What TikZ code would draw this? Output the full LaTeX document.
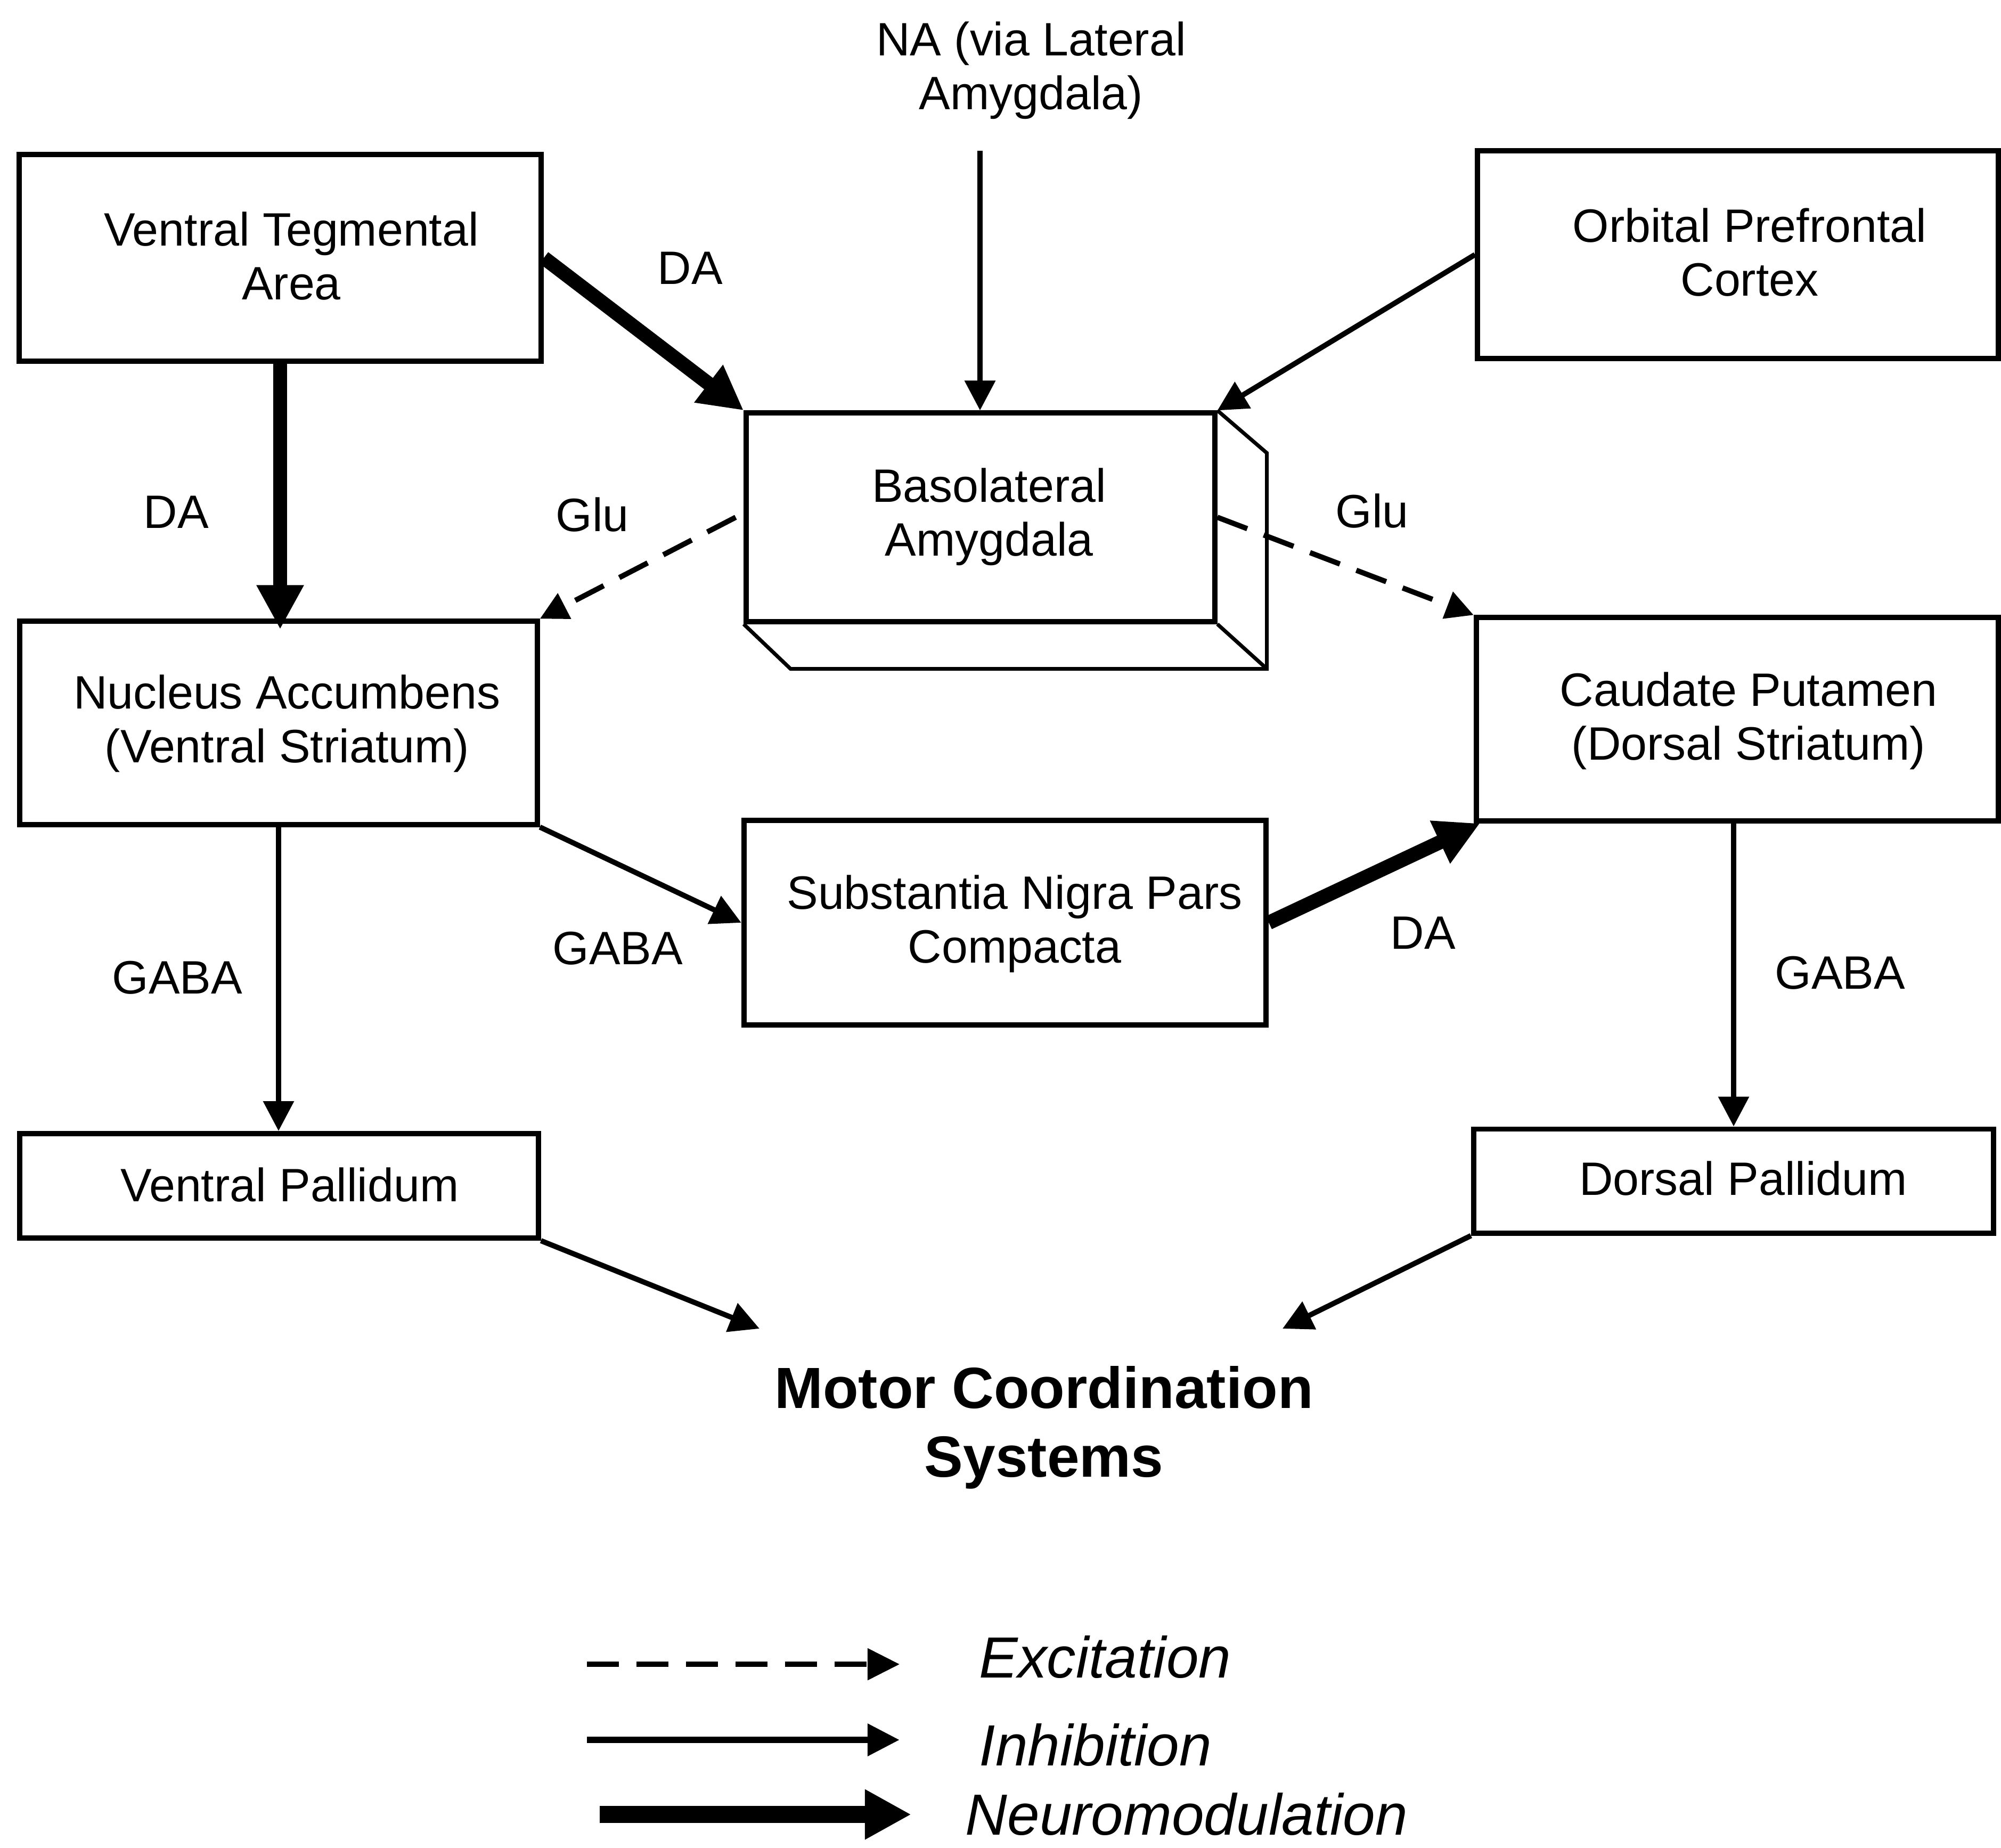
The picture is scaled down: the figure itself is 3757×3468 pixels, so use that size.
\documentclass[tikz,border=0pt]{standalone}
\usepackage{fontspec}
\setmainfont{Liberation Sans}
\usetikzlibrary{arrows.meta}
\begin{document}
\begin{tikzpicture}[x=0.01cm,y=-0.01cm,
  box/.style={draw, line width=2.8pt, rectangle, inner sep=0pt},
  txt/.style={font=\fontsize{25}{28.7}\selectfont, align=center, inner sep=0pt},
  inh/.style={line width=2.8pt, -{Triangle[length=0.56cm,width=0.56cm]}},
  exc/.style={line width=2.8pt, dash pattern=on 0.6cm off 0.33cm, -{Triangle[length=0.52cm,width=0.52cm]}},
  neu/.style={line width=7.6pt, -{Triangle[length=0.83cm,width=0.83cm]}},
  legtxt/.style={font=\fontsize{31}{36}\selectfont\itshape, anchor=west, inner sep=0pt},
]
\useasboundingbox (0,0) rectangle (3757,3468);
\fill[white] (0,0) rectangle (3757,3468);

% regions
\node[box, minimum width=9.8cm,  minimum height=3.88cm] (vta)  at (526,484) {};
\node[txt] (vtaT) at (547,481) {Ventral Tegmental\\Area};
\node[box, minimum width=9.77cm, minimum height=3.9cm]  (opfc) at (3263,478) {};
\node[txt] (opfcT) at (3285,474) {Orbital Prefrontal\\Cortex};
\node[box, minimum width=8.79cm, minimum height=3.91cm] (bla)  at (1841,971) {};
\node[txt] (blaT) at (1857,970) {Basolateral\\Amygdala};
\node[box, minimum width=9.71cm, minimum height=3.81cm] (nacc) at (523,1357) {};
\node[txt] (naccT) at (539,1358) {Nucleus Accumbens\\(Ventral Striatum)};
\node[box, minimum width=9.8cm,  minimum height=3.81cm] (cp)   at (3262,1350) {};
\node[txt] (cpT) at (3283,1353) {Caudate Putamen\\(Dorsal Striatum)};
\node[box, minimum width=9.8cm,  minimum height=3.83cm] (sn)   at (1887,1732) {};
\node[txt] (snT) at (1905,1734) {Substantia Nigra Pars\\Compacta};
\node[box, minimum width=9.73cm, minimum height=1.96cm] (vp)   at (524,2226) {};
\node[txt] (vpT) at (544,2224) {Ventral Pallidum};
\node[box, minimum width=9.76cm, minimum height=1.95cm] (dp)   at (3255,2217) {};
\node[txt] (dpT) at (3273,2212) {Dorsal Pallidum};

% depth faces of the amygdala block
\draw[line width=2pt, line join=miter]
  (bla.north east) -- ++(93,80) |- ([shift={(88,84)}]bla.south west) -- (bla.south west);
\draw[line width=2pt] (bla.south east) -- ++(93,84);

% input and output texts
\node[txt] (na) at (1936,132) {NA (via Lateral\\Amygdala)};
\node[font=\fontsize{31}{36.7}\selectfont\bfseries, align=center, inner sep=0pt] (motor) at (1960,2680) {Motor Coordination\\Systems};
\coordinate (naS) at (1840,283);
\coordinate (mL) at (1426,2494);
\coordinate (mR) at (2408,2494);

% connectors
\draw[inh] (naS) -- (naS |- bla.north);
\draw[inh] (opfc.west) -- (bla.north east);
\draw[neu] (vta.east) -- (bla.north west);
\draw[neu] (vta.south) -- ([yshift=-0.2cm]vta.south |- nacc.north);
\draw[exc] ([xshift=-0.15cm]bla.west) -- (nacc.north east);
\draw[exc] (bla.east) -- (cp.north west);
\draw[inh] (nacc.south east) -- (sn.west);
\draw[neu] (sn.east) -- ([xshift=0.12cm]cp.south west);
\draw[inh] (nacc.south) -- (nacc.south |- vp.north);
\draw[inh] (dp.north |- cp.south) -- (dp.north);
\draw[inh] (vp.south east) -- (mL);
\draw[inh] (dp.south west) -- (mR);

% transmitter labels
\node[txt] (l1) at (1296,503) {DA};
\node[txt] (l2) at (331,961) {DA};
\node[txt] (l3) at (1112,966) {Glu};
\node[txt] (l4) at (2576,959) {Glu};
\node[txt] (l5) at (1160,1780) {GABA};
\node[txt] (l6) at (2672,1751) {DA};
\node[txt] (l7) at (333,1835) {GABA};
\node[txt] (l8) at (3455,1826) {GABA};

% legend
\coordinate (e1) at (1102,3124); \coordinate (e2) at (1689,3124);
\coordinate (i1) at (1102,3266); \coordinate (i2) at (1689,3266);
\coordinate (n1) at (1126,3406); \coordinate (n2) at (1711,3406);
\draw[line width=2.6pt, dash pattern=on 0.6cm off 0.33cm, -{Triangle[length=0.6cm,width=0.58cm]}] (e1) -- (e2);
\draw[line width=3.6pt, -{Triangle[length=0.6cm,width=0.58cm]}] (i1) -- (i2);
\draw[line width=9pt, -{Triangle[length=0.87cm,width=0.88cm]}] (n1) -- (n2);
\node[legtxt] (le) at (1838,3110) {Excitation};
\node[legtxt] (li) at (1838,3275) {Inhibition};
\node[legtxt] (ln) at (1812,3406) {Neuromodulation};
\end{tikzpicture}
\end{document}
